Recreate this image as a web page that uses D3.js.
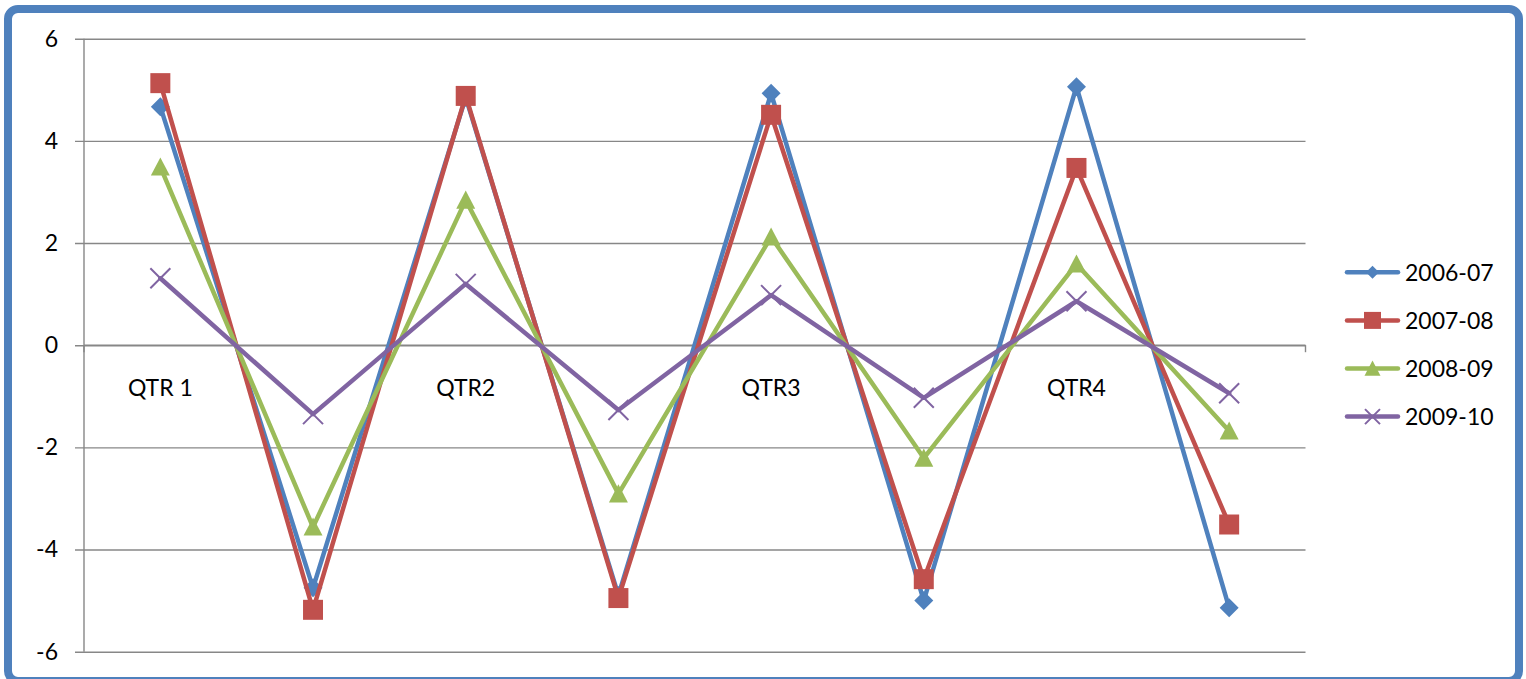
<!DOCTYPE html>
<html>
<head>
<meta charset="utf-8">
<script src="https://cdn.jsdelivr.net/npm/d3@7"></script>
<style>
  html, body { margin: 0; padding: 0; background: #fff; }
  svg { display: block; }
  text { font-family: Lato, "Open Sans", "Liberation Sans", sans-serif; fill: #000; }
</style>
</head>
<body>
<svg id="chart" width="1526" height="679"></svg>
<script>
// Quarter labels sit on every other category slot
const categories = ["QTR 1", "", "QTR2", "", "QTR3", "", "QTR4", ""];
const seriesNames = ["2006-07", "2007-08", "2008-09", "2009-10"];
const values0607 = [4.67, -4.75, 4.85, -4.9, 4.93, -5.0, 5.06, -5.14];
const values0708 = [5.13, -5.18, 4.88, -4.95, 4.51, -4.58, 3.47, -3.51];
const values0809 = [3.49, -3.56, 2.84, -2.91, 2.12, -2.21, 1.59, -1.68];
const values0910 = [1.31, -1.35, 1.2, -1.27, 0.98, -1.03, 0.86, -0.94];
const yTicks = [-6, -4, -2, 0, 2, 4, 6];

const seriesValues = [values0607, values0708, values0809, values0910];
const colors = ["#4F81BD", "#C0504D", "#9BBB59", "#8064A2"];
const markers = ["diamond", "square", "triangle", "cross"];
const fontSize = 23;

const svg = d3.select("#chart");

// outer rounded frame
svg.append("rect")
  .attr("x", 8).attr("y", 9)
  .attr("width", 1511).attr("height", 672)
  .attr("rx", 10).attr("ry", 10)
  .attr("fill", "#fff")
  .attr("stroke", "#4F81BD")
  .attr("stroke-width", 8);

const plotLeft = 84, plotRight = 1305.5, plotTop = 38.7, plotBottom = 651.7;

const x = d3.scaleBand()
  .domain(d3.range(categories.length))
  .range([plotLeft, plotRight])
  .paddingInner(0).paddingOuter(0);

const y = d3.scaleLinear().domain([-6, 6]).range([plotBottom, plotTop]);

const gridColor = "#878787";

// horizontal gridlines (with short outward ticks) and value labels
const yAxis = d3.axisLeft(y)
  .tickValues(yTicks)
  .tickSize(plotRight - plotLeft + 9)
  .tickSizeOuter(0)
  .tickPadding(17)
  .tickFormat(d => d < 0 ? "-" + Math.abs(d) : String(d));

const gy = svg.append("g")
  .attr("transform", `translate(${plotRight},0)`)
  .call(yAxis);
gy.select(".domain").remove();
gy.selectAll(".tick line").attr("stroke", gridColor).attr("stroke-width", 1.4);
gy.selectAll(".tick text")
  .attr("font-size", fontSize)
  .attr("font-family", "Lato, 'Open Sans', sans-serif")
  .attr("fill", "#000");

// vertical value axis line
svg.append("line")
  .attr("x1", plotLeft).attr("x2", plotLeft)
  .attr("y1", plotTop).attr("y2", plotBottom)
  .attr("stroke", gridColor).attr("stroke-width", 1.4);

// category axis along zero, ticks between categories
const boundaries = d3.range(categories.length + 1).map(i => plotLeft + i * x.bandwidth());
const gx = svg.append("g");
gx.append("line")
  .attr("x1", plotLeft).attr("x2", plotRight)
  .attr("y1", y(0)).attr("y2", y(0))
  .attr("stroke", gridColor).attr("stroke-width", 1.4);
gx.selectAll("line.tick")
  .data(boundaries)
  .join("line")
  .attr("class", "tick")
  .attr("x1", d => d).attr("x2", d => d)
  .attr("y1", y(0)).attr("y2", y(0) + 7)
  .attr("stroke", gridColor).attr("stroke-width", 1.4);
gx.selectAll("text")
  .data(categories)
  .join("text")
  .attr("x", (d, i) => x(i) + x.bandwidth() / 2)
  .attr("y", y(0) + 51)
  .attr("text-anchor", "middle")
  .attr("font-size", fontSize)
  .text(d => d);

// marker path generator, s = overall size in px
function markerPath(type, s) {
  const h = s / 2;
  if (type === "diamond") return `M0,${-h}L${h},0L0,${h}L${-h},0Z`;
  if (type === "square") return `M${-h},${-h}H${h}V${h}H${-h}Z`;
  if (type === "triangle") return `M0,${-h}L${h},${h * 0.9}L${-h},${h * 0.9}Z`;
  return `M${-h},${-h}L${h},${h}M${h},${-h}L${-h},${h}`;
}
const markerSizes = { diamond: 19, square: 20, triangle: 19, cross: 20 };
const legendSizes = { diamond: 13, square: 17, triangle: 16, cross: 15 };

const line = d3.line()
  .x((d, i) => x(i) + x.bandwidth() / 2)
  .y(d => y(d));

seriesValues.forEach((vals, s) => {
  const g = svg.append("g");
  g.append("path")
    .attr("d", line(vals))
    .attr("fill", "none")
    .attr("stroke", colors[s])
    .attr("stroke-width", 4.5)
    .attr("stroke-linejoin", "round")
    .attr("stroke-linecap", "round");
  const m = markers[s];
  g.selectAll("path.mk")
    .data(vals)
    .join("path")
    .attr("class", "mk")
    .attr("transform", (d, i) => `translate(${x(i) + x.bandwidth() / 2},${y(d)})`)
    .attr("d", markerPath(m, markerSizes[m]))
    .attr("fill", m === "cross" ? "none" : colors[s])
    .attr("stroke", colors[s])
    .attr("stroke-width", m === "cross" ? 2 : 0);
});

// legend
const legend = svg.append("g");
seriesNames.forEach((name, s) => {
  const cy = 272.3 + s * 48.1;
  const g = legend.append("g").attr("transform", `translate(0,${cy})`);
  g.append("line")
    .attr("x1", 1347).attr("x2", 1398)
    .attr("stroke", colors[s]).attr("stroke-width", 4.5)
    .attr("stroke-linecap", "round");
  const m = markers[s];
  g.append("path")
    .attr("transform", "translate(1372.5,0)")
    .attr("d", markerPath(m, legendSizes[m]))
    .attr("fill", m === "cross" ? "none" : colors[s])
    .attr("stroke", colors[s])
    .attr("stroke-width", m === "cross" ? 2 : 0);
  g.append("text")
    .attr("x", 1405)
    .attr("dy", "0.36em")
    .attr("font-size", fontSize)
    .text(name);
});
</script>
</body>
</html>
